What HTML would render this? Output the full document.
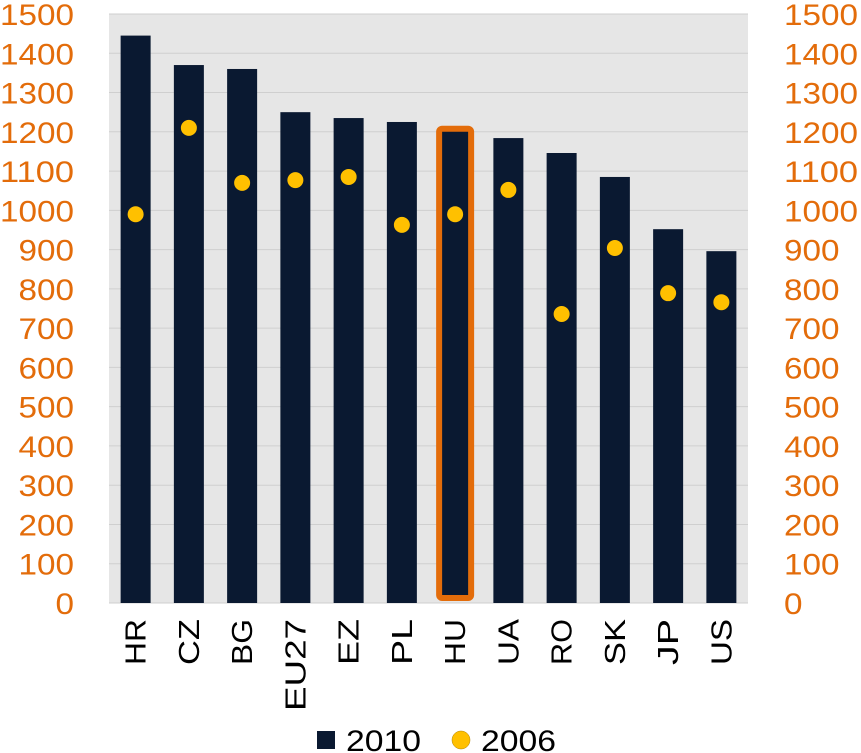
<!DOCTYPE html>
<html><head><meta charset="utf-8"><style>
html,body{margin:0;padding:0;background:#fff;}
svg{display:block;font-family:"Liberation Sans",sans-serif;}
</style></head><body>
<svg id="chart" width="861" height="753" xmlns="http://www.w3.org/2000/svg"></svg>
<script>
const categories = ["HR","CZ","BG","EU27","EZ","PL","HU","UA","RO","SK","JP","US"];
const values2010 = [1445,1370,1360,1250,1235,1225,1195,1184,1146,1085,952,896];
const values2006 = [990,1210,1070,1077,1085,963,990,1052,736,904,789,766];
const ticks = [0,100,200,300,400,500,600,700,800,900,1000,1100,1200,1300,1400,1500];
const highlight = "HU";

const NS="http://www.w3.org/2000/svg";
const svg=document.getElementById('chart');
const X0=109,X1=748,Y0=603,Y1=14,MAX=1500;
const bw=(X1-X0)/categories.length;
const y=v=>Y0-(v/MAX)*(Y0-Y1);
const xc=i=>X0+bw*(i+0.5);
function mk(tag,attrs,parent){const e=document.createElementNS(NS,tag);for(const k in attrs)e.setAttribute(k,attrs[k]);(parent||svg).appendChild(e);return e;}

const bg=mk('rect',{x:X0,y:Y1,width:X1-X0,height:Y0-Y1,fill:'#e6e6e6'});



ticks.forEach(t=>{
  const s=String(t);
  const g=mk('line',{x1:X0,x2:X1,y1:y(t),y2:y(t),stroke:'#cfcfcf','stroke-width':1});
  
  
  const l=mk('text',{x:74,y:y(t)+11,'text-anchor':'end','font-size':30,fill:'#E36C0A',textLength:s.length*18.5,lengthAdjust:'spacingAndGlyphs'});
  l.textContent=s;
  
  
  const r=mk('text',{x:784,y:y(t)+11,'text-anchor':'start','font-size':30,fill:'#E36C0A',textLength:s.length*18.5,lengthAdjust:'spacingAndGlyphs'});
  r.textContent=s;
  
  
});

categories.forEach((c,i)=>{
  const b=mk('rect',{x:xc(i)-15,y:y(values2010[i]),width:30,height:Y0-y(values2010[i]),fill:'#0a1931'});
  if(c===highlight){
    b.setAttribute('stroke','#E36C0A');b.setAttribute('stroke-width','6');
    b.setAttribute('x',xc(i)-16);b.setAttribute('width',32);
    b.setAttribute('y',y(values2010[i])-5);
    b.setAttribute('height',Y0-y(values2010[i]));
    b.setAttribute('rx',3);
  }
  
  
  const d=mk('circle',{cx:xc(i),cy:y(values2006[i]),r:8,fill:'#FFC000'});
  
  
  const t=mk('text',{x:0,y:0,'text-anchor':'end','font-size':29,fill:'#000',textLength:c.length*23,lengthAdjust:'spacingAndGlyphs',transform:`translate(${xc(i)+10},619) rotate(-90)`});
  t.textContent=c;
  
  
});

const lg=mk('g',{});


const s1=mk('rect',{x:317,y:731,width:18,height:18,fill:'#0a1931'},lg);


const t1=mk('text',{x:346,y:751,'font-size':30,fill:'#000',textLength:75,lengthAdjust:'spacingAndGlyphs'},lg);t1.textContent='2010';


const s2=mk('circle',{cx:461,cy:740,r:9,fill:'#FFC000',stroke:'#b08000','stroke-width':0.5},lg);


const t2=mk('text',{x:481,y:751,'font-size':30,fill:'#000',textLength:75,lengthAdjust:'spacingAndGlyphs'},lg);t2.textContent='2006';


</script>
</body></html>
